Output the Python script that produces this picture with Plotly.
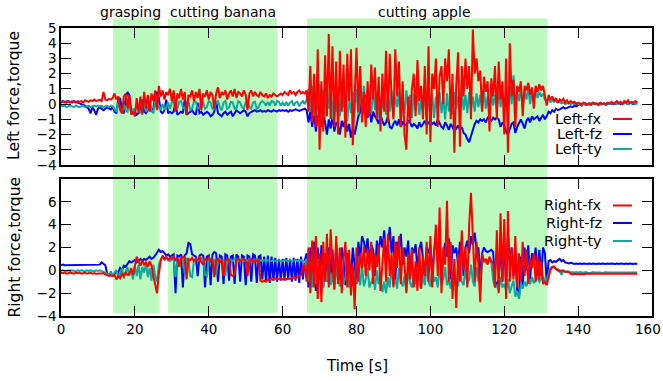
import plotly.graph_objects as go

STEP = 0.5  # sampling step of the lists below, seconds

LEFT_FX = [
    0.1,0.15,0.1,0.2,0.15,0.1,0.2,0.15,0.1,0.2,0.15,0.2,0.1,0.25,0.2,0.15,0.25,0.2,0.3,0.2,
    0.25,0.3,0.2,0.8,0.3,0.25,0.35,0.3,0.4,0.7,0.3,0.5,-0.4,-0.6,0.5,0.7,-0.3,0.6,-0.7,-0.5,
    -0.8,0.4,-0.6,0.5,-0.7,0.8,-0.3,0.6,-0.5,0.7,0.2,0.9,-0.4,1.2,0.5,0.9,0.3,0.8,0.6,1.0,
    0.2,0.9,-0.5,0.7,0.4,1.0,0.3,0.8,-0.7,0.6,0.5,0.9,0.2,0.8,0.4,1.0,-0.4,0.7,0.5,0.9,
    0.3,0.8,0.6,-0.3,0.7,1.1,0.4,0.8,0.6,0.9,0.3,0.7,0.9,0.5,1.0,0.4,0.8,0.7,0.5,0.9,
    0.6,-0.4,0.7,0.9,0.5,0.8,0.6,0.5,0.8,0.6,0.5,0.7,0.4,0.6,0.5,0.7,0.6,0.5,0.6,0.7,
    0.6,0.8,0.7,0.6,0.9,0.7,0.8,0.6,0.8,0.9,0.7,0.8,0.7,0.9,-0.5,2.5,-1.2,2.0,-1.5,3.6,
    -3.0,1.5,-1.8,3.2,-0.8,4.6,-1.0,3.8,-1.5,2.8,-2.0,3.5,-0.5,2.6,-2.2,3.3,0.2,3.6,-2.7,1.0,
    3.7,-0.5,2.5,-1.2,0.8,-1.5,1.5,-0.8,2.6,0.3,2.4,-1.0,1.8,-1.8,2.0,-0.5,3.5,-1.2,3.3,0.5,
    -1.0,3.6,0.5,2.8,-1.5,1.5,-2.0,-3.0,0.5,-1.2,1.0,2.0,-0.8,2.9,0.2,1.2,-1.0,2.5,-2.0,3.8,
    -2.5,2.0,1.0,3.0,-1.5,1.8,2.5,0.0,3.0,1.5,3.6,-1.0,2.0,-3.2,1.2,3.4,-2.8,2.5,0.5,3.0,
    1.0,2.5,-1.0,4.9,2.0,3.0,1.5,2.2,-0.5,1.8,0.8,1.5,-1.8,1.7,0.5,2.5,-1.0,2.8,0.3,1.5,
    -2.0,3.0,-3.2,4.0,0.5,1.6,-1.5,1.2,0.8,1.5,-0.8,1.2,0.9,1.4,0.6,1.1,-0.3,1.2,0.8,1.3,
    0.9,1.2,0.5,-0.1,0.6,0.3,0.5,0.2,0.4,0.1,0.3,0.2,0.35,0.1,0.25,0.05,0.2,0.1,0.15,0.0,
    0.1,0.05,0.0,0.1,0.05,-0.05,0.05,0.0,0.1,0.0,0.05,-0.05,0.1,0.0,0.05,0.0,0.1,0.05,0.15,0.0,
    0.1,0.2,0.05,0.15,0.0,0.2,0.1,0.25,0.05,0.15,0.1,0.2,0.1,
]
LEFT_FZ = [
    0.1,0.2,0.15,0.1,0.2,0.15,0.1,0.2,0.15,0.1,0.1,0.05,0.0,-0.1,-0.2,-0.3,-0.6,-0.2,-0.4,-0.7,
    -0.3,-0.2,-0.3,-0.4,-0.3,-0.2,-0.3,-0.35,-0.2,-0.5,-0.6,0.3,0.4,-0.5,-0.6,0.3,0.8,0.6,-0.4,-0.6,
    -0.5,-0.7,-0.6,-0.3,0.3,-0.5,-0.6,-0.4,0.2,-0.5,-0.3,0.5,0.8,0.4,-0.5,-0.6,-0.4,0.3,-0.6,-0.5,
    -0.6,-0.5,0.2,-0.7,-0.6,-0.5,-0.6,0.3,-0.7,-0.6,-0.5,-0.4,-0.6,-0.7,0.1,-0.6,-0.5,-0.7,-0.6,-0.5,
    -0.6,-0.8,-0.7,-0.5,0.2,-0.6,-0.7,-0.8,-0.6,-0.5,-0.7,-0.6,-0.5,-0.8,-0.6,-0.4,-0.5,-0.6,-0.5,-0.4,
    -0.5,-0.8,-0.6,-0.5,-0.45,-0.4,-0.5,-0.45,-0.4,-0.5,-0.45,-0.5,-0.4,-0.45,-0.5,-0.4,-0.45,-0.5,-0.4,-0.45,
    -0.4,-0.45,-0.4,-0.5,-0.4,-0.45,-0.4,-0.35,-0.4,-0.45,-0.4,-0.35,-0.3,-0.4,-1.2,-0.5,-1.5,-0.6,-1.8,-0.8,
    -0.8,-1.5,-0.6,-1.2,-2.0,-1.0,-1.6,-0.8,-1.8,-1.2,-1.4,-2.0,-1.1,-1.5,-0.9,-1.8,-1.3,-2.2,-1.6,-2.0,
    -1.4,-0.8,-0.5,0.3,-0.6,0.6,-0.9,-0.2,-1.2,-0.5,-0.8,-1.0,-1.3,-0.7,-1.1,-1.4,-1.2,-0.8,-1.5,-1.6,
    -1.3,-1.1,-1.4,-1.0,-1.5,-1.2,-1.3,-1.4,-1.1,-1.2,-1.5,-1.3,-1.4,-1.6,-1.2,-1.5,-1.3,-1.1,-1.4,-1.2,
    -1.1,-1.3,-1.2,-1.4,-1.0,-1.3,-1.5,-1.6,-1.2,-1.4,-1.7,-1.3,-1.5,-1.8,-1.6,-1.4,-1.7,-1.5,-1.9,-2.0,
    -2.3,-2.5,-2.1,-1.6,-1.3,-1.1,-1.2,-1.0,-1.1,-1.0,-1.2,-0.9,-1.0,-1.1,-0.9,-1.0,-0.9,-1.0,-1.5,-1.2,
    -1.4,-1.8,-2.0,-1.6,-1.3,-1.2,-1.9,-1.5,-1.2,-1.0,-1.3,-1.6,-1.1,-0.9,-1.2,-0.8,-1.0,-0.9,-0.8,-1.1,
    -0.9,-0.7,-1.0,-0.8,-0.5,-0.6,-0.4,-0.5,-0.3,-0.4,-0.35,-0.3,-0.2,-0.3,-0.25,-0.2,-0.15,-0.2,-0.1,-0.15,
    -0.1,0.0,-0.1,0.05,-0.05,0.0,0.05,-0.05,0.0,0.05,0.0,-0.05,0.05,0.0,0.05,-0.05,0.0,0.05,0.0,0.05,
    0.0,0.05,0.1,0.0,0.05,0.1,0.05,0.0,0.1,0.05,0.0,0.05,0.1,
]
LEFT_TY = [
    -0.1,-0.15,-0.1,-0.2,-0.15,-0.1,-0.15,-0.2,-0.1,-0.15,-0.2,-0.15,-0.1,-0.2,-0.15,-0.1,-0.2,-0.15,-0.1,-0.15,
    -0.1,-0.15,-0.1,-0.2,-0.15,-0.1,-0.2,-0.1,-0.15,-0.3,-0.5,0.1,-0.2,-0.6,0.0,-0.4,-0.5,0.1,-0.6,-0.3,
    -0.5,0.0,-0.4,-0.6,-0.2,0.1,-0.5,-0.3,0.0,-0.4,-0.6,0.2,-0.3,-0.1,-0.4,0.0,-0.3,-0.2,0.1,-0.3,
    0.1,0.2,-0.3,-0.3,0.15,0.2,-0.2,-0.3,0.1,0.2,-0.4,-0.3,0.2,0.15,-0.3,-0.2,0.2,0.1,-0.3,-0.2,
    0.2,0.1,-0.3,-0.3,0.15,0.2,-0.2,-0.4,0.1,0.2,-0.3,-0.2,0.15,0.1,-0.3,-0.3,0.2,0.1,-0.2,-0.3,
    0.1,0.2,-0.2,-0.3,0.1,0.15,-0.3,-0.2,0.1,0.2,0.1,-0.1,0.15,-0.1,0.2,0.15,-0.1,0.2,0.15,-0.1,
    0.1,-0.1,0.15,-0.1,0.1,0.2,-0.1,0.1,0.15,-0.15,0.1,0.2,0.0,0.3,1.0,-0.5,1.2,-0.8,0.8,-0.4,
    1.3,-0.6,0.9,-0.9,1.2,-0.3,0.7,-1.0,1.1,-0.5,0.4,-0.8,0.9,-0.2,0.6,-1.1,0.5,-0.6,0.8,-0.4,
    1.0,-0.7,0.6,-0.3,1.2,-0.8,0.9,0.2,-0.6,1.0,-0.4,0.7,-0.9,0.5,-0.3,1.1,-0.7,0.6,-0.5,0.9,
    -0.8,0.5,-0.2,0.8,-1.1,0.4,-0.6,0.9,-0.3,0.6,-0.9,0.7,-0.4,0.8,-0.7,0.3,-0.5,0.9,-0.8,0.6,
    -0.4,0.7,-0.9,0.5,-0.3,0.8,-0.6,0.4,-1.0,0.7,-0.5,0.6,-0.7,0.8,-0.3,0.5,-0.8,0.9,-0.4,0.6,
    -0.6,0.8,-0.3,0.5,-0.5,0.7,-0.2,0.6,-0.4,0.9,-0.3,0.5,-0.6,0.7,-0.1,0.6,-0.5,1.0,-0.2,0.8,
    -0.3,0.9,-0.5,1.2,0.0,1.9,-0.2,0.8,0.2,1.0,-0.1,0.9,0.3,1.1,0.0,0.8,0.2,1.0,0.4,0.8,
    0.5,0.7,0.3,0.2,0.4,0.1,0.3,0.15,0.2,0.1,0.15,0.05,0.1,0.0,0.05,0.1,0.0,0.05,0.0,0.05,
    0.0,0.05,-0.05,0.0,0.05,0.0,-0.05,0.05,0.0,0.05,0.0,0.05,-0.05,0.0,0.05,0.0,0.05,0.0,0.05,0.0,
    0.05,0.0,0.05,0.1,0.0,0.05,0.1,0.0,0.05,0.1,0.05,0.0,0.05,
]
RIGHT_FX = [
    -0.2,-0.25,-0.2,-0.3,-0.25,-0.2,-0.25,-0.3,-0.2,-0.25,-0.2,-0.3,-0.25,-0.2,-0.3,-0.25,-0.2,-0.3,-0.25,-0.3,
    -0.3,-0.25,-0.3,-0.25,-0.35,-0.4,-0.5,-0.45,-0.5,-0.4,-0.8,-0.5,-0.7,-0.3,-0.5,-0.2,-0.4,-0.3,0.2,-0.4,
    0.6,1.2,0.8,0.4,0.9,0.5,0.7,0.3,0.8,0.4,-0.5,-1.2,-2.0,-0.3,0.8,1.3,1.0,1.2,0.9,1.1,
    1.0,1.2,0.9,1.1,0.3,1.0,1.2,1.1,-0.8,1.0,0.9,1.1,0.8,1.0,0.9,1.2,0.7,0.5,1.0,0.9,
    1.1,0.8,1.0,-0.6,0.9,1.0,0.7,0.9,-0.5,0.8,1.0,0.9,-0.4,-0.5,-0.3,0.9,1.0,0.8,0.9,1.0,
    0.8,-0.5,0.9,1.0,0.7,0.9,0.8,1.0,-0.9,-1.0,-0.9,-1.0,-0.8,-0.9,-0.7,-0.8,-0.7,-0.8,-0.75,-0.7,
    -0.8,-0.7,-0.8,-0.7,-0.75,-0.7,-0.6,-0.7,-0.6,-0.5,-0.4,0.3,0.5,-1.0,2.0,-2.0,2.6,-1.5,3.0,-2.5,
    1.5,-2.8,2.5,-1.0,3.2,-1.5,3.6,0.5,-1.7,3.0,-1.2,2.0,-2.0,1.0,2.5,-1.5,1.8,-2.2,0.5,-3.4,
    2.0,-1.0,1.5,0.2,2.1,-0.5,1.8,0.0,2.5,-1.2,1.5,0.3,2.2,-1.8,1.0,2.8,-1.0,3.2,-0.5,1.5,
    -1.5,2.5,0.2,3.0,-1.2,2.0,0.5,-2.0,1.5,-0.8,1.8,-1.5,0.8,-1.8,2.0,-1.6,1.2,-0.5,2.5,-1.0,
    3.0,-1.5,1.5,4.0,-0.5,5.5,-2.0,2.0,0.5,6.1,-1.0,2.5,-2.5,1.0,-3.3,1.5,-1.0,3.5,0.0,2.0,
    -1.5,4.0,6.8,3.0,-1.0,2.5,0.5,-2.8,1.5,0.8,1.0,0.5,1.2,0.8,0.6,-1.5,3.5,-2.0,5.0,-1.0,
    4.5,-2.5,5.2,-1.0,2.0,-0.8,3.0,-1.5,1.5,-1.0,2.5,-0.5,1.8,-1.2,1.0,0.2,1.5,-1.0,1.2,-0.8,
    0.8,-1.2,-1.0,-1.3,-0.5,0.0,0.3,0.35,0.1,0.0,-0.1,0.0,-0.1,-0.15,-0.1,-0.15,-0.3,-0.35,-0.3,-0.35,
    -0.3,-0.35,-0.3,-0.35,-0.3,-0.3,-0.35,-0.3,-0.35,-0.3,-0.3,-0.35,-0.3,-0.35,-0.3,-0.3,-0.35,-0.3,-0.3,-0.35,
    -0.3,-0.35,-0.3,-0.3,-0.35,-0.3,-0.3,-0.35,-0.3,-0.3,-0.35,-0.3,-0.3,
]
RIGHT_FZ = [
    0.45,0.5,0.45,0.45,0.5,0.45,0.5,0.45,0.45,0.5,0.45,0.5,0.45,0.45,0.5,0.45,0.5,0.45,0.45,0.5,
    0.45,0.5,0.7,0.6,0.45,-0.3,-0.4,-0.3,-0.4,-0.3,-0.1,-0.2,0.2,0.0,0.4,0.3,0.6,0.8,0.7,0.8,
    0.9,0.7,0.9,1.0,0.8,1.0,0.9,1.1,1.2,1.0,1.1,1.3,1.5,1.8,1.6,1.7,1.5,1.3,1.4,1.2,
    1.3,1.4,-2.0,1.3,1.2,1.4,-1.5,1.3,1.5,2.4,2.3,1.4,1.3,1.2,-0.5,1.3,1.4,1.3,-1.5,1.2,
    1.3,-1.3,1.4,1.6,1.5,-1.0,1.3,1.2,-1.2,1.4,1.3,-0.9,1.2,1.3,-1.2,1.4,1.2,-1.0,1.3,1.2,
    -1.3,1.3,1.2,-1.0,1.4,1.3,-1.1,1.2,1.3,-0.8,1.2,-1.0,1.3,-1.1,1.2,-0.9,1.1,-1.0,1.0,-0.9,
    1.0,-0.9,1.1,-0.8,1.0,-1.0,1.1,-0.9,1.0,-1.1,1.2,-0.8,0.9,1.5,-1.5,2.0,-1.0,2.5,-1.8,2.0,
    -0.8,2.2,-1.5,1.5,-1.0,2.0,-0.5,1.8,-1.2,2.3,0.5,-1.0,2.0,0.8,-1.3,1.5,1.0,-0.8,2.0,0.5,
    -1.2,2.5,1.0,3.0,2.5,1.5,2.8,0.8,2.2,1.8,-0.5,2.6,1.5,3.0,2.0,3.5,1.0,2.2,3.8,1.5,
    3.0,-1.0,2.5,1.8,3.2,0.5,2.0,1.2,2.6,-0.8,2.0,1.5,2.3,0.0,1.8,2.5,1.0,-1.2,2.0,1.5,
    2.2,-0.5,1.8,2.6,0.8,2.0,-1.0,1.5,2.4,1.2,2.8,-0.8,2.2,1.5,2.0,0.5,2.5,1.8,-0.5,2.0,
    2.6,1.5,3.0,2.2,3.3,1.8,2.0,-0.5,1.5,2.0,1.7,1.6,1.7,1.8,1.6,-1.0,-1.2,-0.8,2.5,-1.0,
    2.8,-1.3,3.0,0.5,2.0,-0.5,1.5,-1.8,-2.3,1.2,-1.5,2.0,0.0,2.2,-0.8,1.5,0.5,2.0,-0.5,1.8,
    -0.5,2.0,1.5,-1.0,0.8,0.9,0.7,0.8,0.75,0.9,1.0,0.8,0.9,0.7,0.65,0.6,0.65,0.6,0.55,0.6,
    0.55,0.6,0.55,0.6,0.55,0.55,0.6,0.55,0.6,0.55,0.55,0.6,0.55,0.6,0.55,0.55,0.6,0.55,0.6,0.55,
    0.55,0.6,0.55,0.6,0.55,0.55,0.6,0.55,0.6,0.55,0.55,0.6,0.55,
]
RIGHT_TY = [
    -0.05,0.0,-0.05,-0.1,0.0,-0.05,0.0,-0.05,-0.1,0.0,-0.05,0.0,-0.05,-0.1,0.0,-0.05,0.0,-0.05,-0.1,0.0,
    -0.05,0.0,-0.05,-0.1,-0.2,-0.3,-0.4,-0.1,-0.5,-0.2,0.0,-0.6,-0.3,0.2,-0.7,-0.2,0.3,-0.5,0.0,-0.8,
    0.4,-0.5,0.5,-0.8,0.3,-0.2,0.6,-0.6,0.2,-0.9,0.5,-0.5,-1.0,0.5,1.0,1.2,0.9,1.1,1.0,0.8,
    1.0,0.9,-0.6,1.0,0.8,1.1,0.9,-0.3,1.0,0.9,-0.5,-0.6,0.9,1.0,0.8,0.9,1.1,0.9,-0.4,-0.5,
    0.9,1.0,0.8,0.9,-0.4,0.9,1.0,0.8,0.9,-0.5,0.8,1.0,0.9,0.8,1.0,0.9,0.8,0.9,1.0,0.8,
    0.9,0.8,1.0,0.9,0.8,0.9,1.0,0.8,0.9,0.8,0.9,0.8,0.9,0.85,0.8,0.9,0.8,0.85,0.9,0.8,
    0.8,0.9,0.85,0.8,0.9,0.8,0.85,0.9,0.8,0.85,0.9,0.8,0.7,1.0,-1.0,0.8,-1.5,0.5,-1.2,1.0,
    -0.8,0.5,-1.5,0.2,-1.0,0.8,-1.3,-0.2,-1.6,0.5,-0.9,-1.4,0.3,-1.2,-0.6,0.6,-1.5,-0.8,0.2,-1.2,
    -1.0,-0.5,-1.3,0.4,-1.4,-0.8,0.2,-1.5,-1.0,-0.6,-1.7,0.0,-1.2,-0.8,-1.9,-1.0,-2.0,-0.6,-1.5,0.3,
    -1.3,-0.8,-1.6,0.2,-1.0,-1.4,-0.5,-1.8,0.0,-1.1,-1.5,-0.4,-1.2,0.3,-1.0,-1.6,-0.2,-1.3,0.5,-1.0,
    -1.4,0.2,-1.0,-0.6,-1.5,0.4,-1.2,-0.8,0.3,-1.3,-0.9,-1.6,0.0,-1.1,-0.7,-1.4,0.4,-1.0,-1.3,0.2,
    -1.2,-0.8,0.5,-1.0,-1.4,0.3,-0.9,-1.2,0.6,0.8,0.7,0.9,0.8,0.7,-0.9,-1.5,-1.3,-1.8,-0.6,-1.5,
    -1.2,-1.8,-0.8,-2.0,-1.4,-0.9,-2.3,-1.8,-2.5,-1.2,-1.6,-1.0,-1.4,-0.8,-1.2,-0.6,-1.1,-0.9,-0.7,-1.0,
    -0.8,-0.5,-1.0,-0.8,-0.3,0.2,0.3,0.25,0.2,0.1,0.0,-0.4,0.0,-0.1,-0.15,-0.1,-0.2,-0.15,-0.2,-0.15,
    -0.2,-0.15,-0.2,-0.2,-0.15,-0.2,-0.25,-0.2,-0.15,-0.2,-0.2,-0.15,-0.2,-0.25,-0.2,-0.15,-0.2,-0.2,-0.15,-0.2,
    -0.2,-0.15,-0.2,-0.2,-0.15,-0.2,-0.2,-0.15,-0.2,-0.2,-0.15,-0.2,-0.2,
]

PHASES = ["grasping", "cutting banana", "cutting apple"]
PHASE_START = [14.1, 29.0, 66.6]
PHASE_END = [26.5, 58.5, 131.7]
PHASE_LABEL_X = [18.8, 43.9, 98.5]

X_TICKS = [0, 20, 40, 60, 80, 100, 120, 140, 160]
LEFT_TICKS = [-4, -3, -2, -1, 0, 1, 2, 3, 4, 5]
RIGHT_TICKS = [-4, -2, 0, 2, 4, 6]

LEFT_NAMES = ["Left-fx", "Left-fz", "Left-ty"]
RIGHT_NAMES = ["Right-fx", "Right-fz", "Right-ty"]

RED, BLUE, TEAL = "#ff0000", "#0000ff", "#0fa89e"
GREEN = "#bcf9bc"
FONT = "DejaVu Sans"


def times(vals):
    return [i * STEP for i in range(len(vals))]


fig = go.Figure()
# draw order: fz, ty, fx (red on top)
for vals, col, xa, ya in [
    (LEFT_FZ, BLUE, "x2", "y2"), (LEFT_TY, TEAL, "x2", "y2"), (LEFT_FX, RED, "x2", "y2"),
    (RIGHT_FZ, BLUE, "x", "y"), (RIGHT_TY, TEAL, "x", "y"), (RIGHT_FX, RED, "x", "y"),
]:
    fig.add_trace(go.Scatter(x=times(vals), y=vals, mode="lines", xaxis=xa, yaxis=ya,
                             line=dict(color=col, width=2), showlegend=False,
                             hoverinfo="skip"))

shapes = []
annotations = []
for name, s, e, lx in zip(PHASES, PHASE_START, PHASE_END, PHASE_LABEL_X):
    shapes.append(dict(type="rect", xref="x", yref="paper", x0=s, x1=e, y0=0.010, y1=1.033,
                       fillcolor=GREEN, line=dict(width=0), layer="below"))
    annotations.append(dict(text=name, x=lx, xref="x", y=1.056, yref="paper",
                            showarrow=False, xanchor="center", yanchor="middle",
                            font=dict(family=FONT, size=14, color="black")))

# legends (text right-aligned with sample line to the right, gnuplot style)
LEG_TEXT_X = 0.917
LEG_LINE_X = (0.934, 0.966)
for names, ys in [(LEFT_NAMES, [0.6840, 0.6319, 0.5799]), (RIGHT_NAMES, [0.3837, 0.3229, 0.2604])]:
    for nm, yy, col in zip(names, ys, [RED, BLUE, TEAL]):
        annotations.append(dict(text=nm, x=LEG_TEXT_X, xref="paper", y=yy, yref="paper",
                                showarrow=False, xanchor="right", yanchor="middle", borderpad=0,
                                font=dict(family=FONT, size=14.5, color="black")))
        shapes.append(dict(type="line", xref="paper", yref="paper", x0=LEG_LINE_X[0],
                           x1=LEG_LINE_X[1], y0=yy, y1=yy, line=dict(color=col, width=2)))

annotations.append(dict(text="Left force,torque", x=-0.0795, xref="paper", y=0.764, yref="paper",
                        textangle=-90, showarrow=False, xanchor="center", yanchor="middle",
                        font=dict(family=FONT, size=15.5, color="black")))
annotations.append(dict(text="Right force,torque", x=-0.0795, xref="paper", y=0.2378, yref="paper",
                        textangle=-90, showarrow=False, xanchor="center", yanchor="middle",
                        font=dict(family=FONT, size=15.5, color="black")))
annotations.append(dict(text="Time [s]", x=0.5, xref="paper", y=-0.174, yref="paper",
                        showarrow=False, xanchor="center", yanchor="middle",
                        font=dict(family=FONT, size=15, color="black")))

# last x tick label sits at the right page edge: keep it fully inside the page
X_TICKTEXT = [str(v) for v in X_TICKS[:-1]] + [""]
annotations.append(dict(text=str(X_TICKS[-1]), x=X_TICKS[-1], xref="x", y=-0.045, yref="paper",
                        xanchor="right", xshift=10, yanchor="middle", showarrow=False,
                        borderpad=0, font=dict(family=FONT, size=13.5, color="black")))

axis_common = dict(showline=True, linecolor="black", linewidth=1.6, mirror="allticks",
                   ticks="inside", ticklen=10, tickcolor="black", tickwidth=1,
                   showgrid=False, zeroline=False, automargin=False,
                   tickfont=dict(family=FONT, size=13.5, color="black"))

fig.update_layout(
    width=663, height=381, autosize=False,
    margin=dict(l=61, r=11, t=28, b=65, autoexpand=False),
    paper_bgcolor="white", plot_bgcolor="rgba(0,0,0,0)",
    xaxis=dict(domain=[0, 1], anchor="y", range=[0, 160], tickvals=X_TICKS,
               ticktext=X_TICKTEXT, **axis_common),
    yaxis=dict(domain=[0, 0.4757], anchor="x", range=[-4, 8], tickvals=RIGHT_TICKS, **axis_common),
    xaxis2=dict(domain=[0, 1], anchor="y2", range=[0, 160], tickvals=X_TICKS,
                showticklabels=False, matches="x", **axis_common),
    yaxis2=dict(domain=[0.5243, 1], anchor="x2", range=[-4, 5], tickvals=LEFT_TICKS, **axis_common),
    shapes=shapes, annotations=annotations, showlegend=False,
)

fig.write_html("out.html")
